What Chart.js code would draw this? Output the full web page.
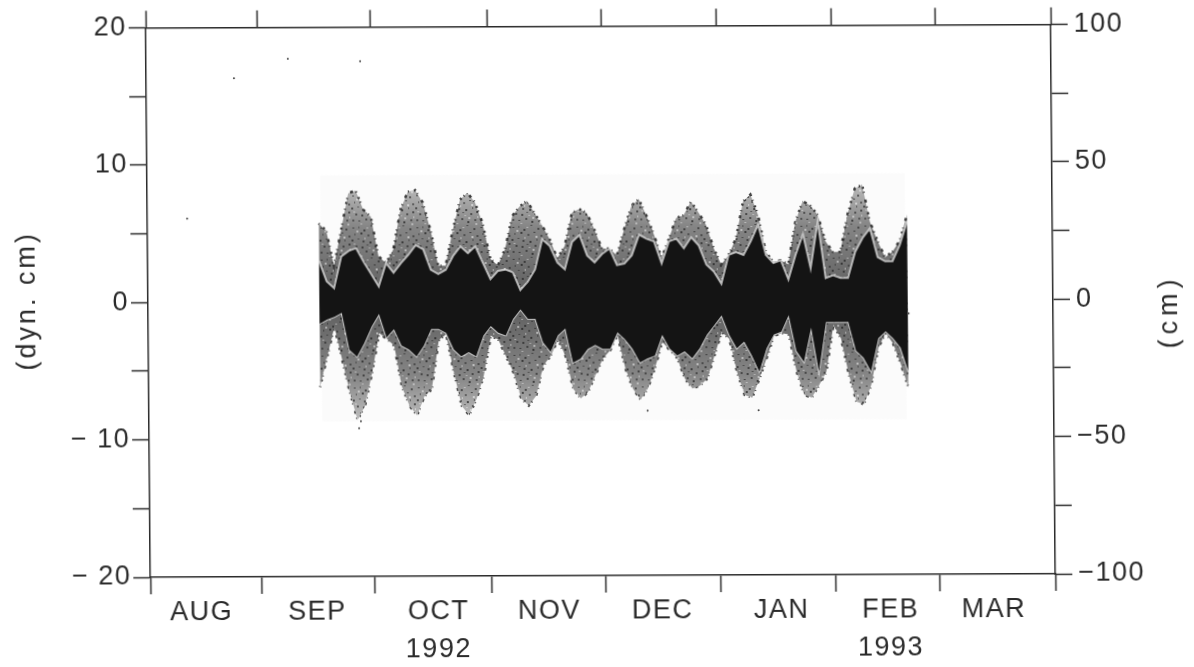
<!DOCTYPE html>
<html>
<head>
<meta charset="utf-8">
<style>
  html, body { margin: 0; padding: 0; background: #fff; overflow: hidden; }
  /* the scanned figure sits slightly crooked on the page */
  #sea { display: block; transform-origin: 600px 300px; transform: matrix(1, -0.0038, 0.0085, 1, 0, 0.6); filter: blur(.35px); }
</style>
<script src="https://cdn.jsdelivr.net/npm/chart.js@4/dist/chart.umd.min.js"></script>
</head>
<body>
<canvas id="sea" width="1194" height="667"></canvas>
<script>
var monthStarts = [0, 30, 60.3, 91.6, 122.4, 153.3, 184.1, 212, 243];
var monthDays = [13.7, 44.8, 77.3, 107.1, 137.5, 169.4, 198.7, 226.4];
var monthNames = ['AUG', 'SEP', ['OCT', '1992'], 'NOV', 'DEC', 'JAN', ['FEB', '1993'], 'MAR'];
var leftLabels = { '20': '20', '10': '10', '0': '0', '-10': '\u2212 10', '-20': '\u2212 20' };
var rightLabels = { '100': '100', '50': '50', '0': '0', '-50': '\u221250', '-100': '\u2212100' };

var days = [46, 48, 50, 52, 54, 56, 58, 60, 62, 64, 66, 68, 70, 72, 74, 76, 78, 80, 82, 84,
  86, 88, 90, 92, 94, 96, 98, 100, 102, 104, 106, 108, 110, 112, 114, 116, 118, 120, 122, 124,
  126, 128, 130, 132, 134, 136, 138, 140, 142, 144, 146, 148, 150, 152, 154, 156, 158, 160, 162, 164,
  166, 168, 170, 172, 174, 176, 178, 180, 182, 184, 186, 188, 190, 192, 194, 196, 198, 200, 202, 204];
var outerTop = [5.7, 5.2, 2.6, 5.2, 7.9, 8.1, 6.7, 6.2, 3.3, 2.8, 3.8, 6.7, 8.0, 8.1, 7.2, 5.2, 2.6, 2.6, 5.2, 7.4,
  7.9, 7.2, 5.7, 3.1, 2.6, 3.8, 6.2, 6.9, 7.3, 6.4, 5.5, 4.5, 3.1, 4.0, 6.4, 6.7, 6.4, 5.2, 3.8, 3.8,
  3.3, 5.2, 6.9, 7.4, 6.2, 4.8, 3.1, 4.5, 6.0, 6.2, 7.2, 6.4, 5.5, 3.8, 2.6, 3.3, 4.5, 7.2, 7.7, 6.2,
  3.5, 2.8, 2.9, 2.6, 5.7, 7.2, 6.9, 6.2, 4.3, 3.5, 3.5, 6.2, 8.1, 8.4, 5.7, 4.3, 3.1, 3.5, 4.3, 6.2];
var innerTop = [3.0, 1.5, 1.0, 3.3, 3.7, 3.9, 2.9, 2.0, 1.1, 2.8, 2.1, 2.8, 3.4, 4.1, 3.8, 2.3, 2.0, 2.3, 3.3, 4.0,
  3.5, 4.0, 2.8, 1.6, 2.2, 2.3, 2.1, 0.8, 1.4, 2.3, 4.5, 4.0, 2.8, 2.3, 4.3, 4.8, 3.3, 2.8, 3.4, 3.8,
  2.6, 2.7, 3.3, 4.8, 4.5, 4.3, 2.7, 4.3, 4.5, 3.8, 4.6, 4.0, 2.6, 2.1, 1.2, 3.3, 3.5, 3.3, 4.3, 5.5,
  3.3, 2.7, 2.9, 1.5, 3.3, 4.8, 2.3, 5.7, 1.6, 1.8, 1.6, 1.6, 3.5, 4.5, 5.2, 3.1, 2.8, 2.8, 4.0, 5.7];
var innerBottom = [-1.6, -1.3, -1.1, -0.8, -3.5, -4.0, -3.0, -1.8, -0.9, -2.6, -2.0, -3.2, -3.5, -4.0, -3.2, -2.0, -2.0, -2.3, -3.5, -4.0,
  -3.7, -4.0, -2.5, -1.8, -2.3, -2.5, -1.3, -0.6, -1.3, -1.3, -3.0, -3.7, -2.5, -2.0, -4.5, -4.2, -3.5, -3.2, -3.5, -3.5,
  -2.3, -2.8, -3.5, -4.5, -4.2, -4.0, -2.5, -3.5, -4.0, -3.7, -4.2, -3.5, -2.5, -1.8, -1.1, -2.5, -3.5, -3.0, -4.0, -5.2,
  -3.5, -2.5, -2.3, -1.1, -3.7, -4.5, -2.0, -5.2, -1.6, -1.6, -1.6, -1.6, -3.7, -4.2, -5.2, -2.8, -2.3, -2.8, -3.5, -5.2];
var outerBottom = [-6.2, -4.0, -1.8, -4.2, -6.6, -8.6, -7.6, -5.2, -2.3, -2.7, -3.2, -6.2, -7.6, -8.3, -6.9, -6.4, -2.8, -2.4, -5.2, -7.6,
  -8.3, -7.1, -5.4, -2.5, -2.8, -4.0, -5.2, -7.1, -7.6, -6.9, -4.7, -4.0, -2.8, -4.0, -6.4, -7.1, -6.6, -5.4, -4.2, -3.6,
  -2.5, -4.9, -6.4, -7.2, -6.4, -4.9, -3.0, -3.6, -4.2, -5.7, -6.4, -6.2, -5.7, -4.0, -2.3, -2.8, -5.2, -6.9, -7.1, -5.7,
  -4.2, -2.6, -2.4, -2.5, -5.2, -6.9, -7.1, -6.2, -5.2, -1.8, -2.8, -5.4, -7.4, -7.6, -6.2, -3.5, -2.4, -3.2, -4.7, -6.4];

// faint halftone rectangle behind the record
var boxDays = [46.5, 203.5];
var boxTop = [9.2, 9.2];
var boxBottom = [-8.7, -8.7];
// stray specks on the scan
var speckDays = [23.6, 38.1, 57.5, 10.7, 56.4, 56.9, 133.9, 204.2, 163.7];
var speckValues = [16.3, 17.7, 17.5, 6.1, -9.2, -8.7, -8.0, -1.0, -8.0];

// hand placed blotches for the grey texture, x, y, w, h, alpha
var inkDots = [[1, 2, 2, 1, .6], [7, 1, 1, 2, .45], [12, 4, 2, 2, .6], [19, 0, 2, 1, .5], [26, 3, 2, 2, .55],
  [3, 8, 1, 2, .5], [9, 7, 2, 2, .65], [16, 9, 2, 2, .45], [22, 7, 2, 1, .6], [29, 10, 2, 2, .5],
  [0, 14, 2, 2, .6], [6, 13, 2, 1, .45], [11, 15, 2, 2, .55], [18, 16, 2, 2, .65], [25, 14, 1, 2, .5],
  [4, 20, 2, 2, .55], [10, 21, 2, 2, .6], [15, 19, 2, 1, .45], [23, 20, 2, 2, .55], [29, 18, 2, 2, .6],
  [1, 26, 2, 2, .5], [7, 27, 2, 1, .6], [14, 25, 2, 2, .55], [20, 28, 2, 2, .65], [27, 26, 2, 2, .5]];
var paperDots = [[5, 5, 2, 2, .45], [15, 2, 2, 1, .4], [24, 11, 2, 2, .5], [13, 12, 1, 2, .45], [2, 18, 2, 1, .4],
  [21, 24, 2, 2, .45], [9, 30, 2, 1, .4], [30, 23, 1, 2, .45], [17, 22, 2, 1, .35], [28, 30, 2, 2, .4]];

function speckleTile() {
  var tile = document.createElement('canvas');
  tile.width = 32;
  tile.height = 32;
  var c = tile.getContext('2d');
  inkDots.forEach(function (d) {
    c.fillStyle = 'rgba(25,25,25,' + d[4] + ')';
    c.fillRect(d[0], d[1], d[2], d[3]);
  });
  paperDots.forEach(function (d) {
    c.fillStyle = 'rgba(255,255,255,' + d[4] + ')';
    c.fillRect(d[0], d[1], d[2], d[3]);
  });
  return c.createPattern(tile, 'repeat');
}

function pairs(xs, ys) {
  return xs.map(function (x, i) { return { x: x, y: ys[i] }; });
}

// two lines and the fill between them
function band(xs, top, bottom, fillStyle, edge, order) {
  var line = { pointRadius: 0, tension: 0, order: order, borderWidth: edge.width, borderColor: edge.color, borderDash: edge.dash || [] };
  return [
    Object.assign({ data: pairs(xs, top), fill: '+1', backgroundColor: fillStyle }, line),
    Object.assign({ data: pairs(xs, bottom), fill: false }, line)
  ];
}

function greyFade(context) {
  var chart = context.chart;
  if (!chart.chartArea) return '#888';
  var y = chart.scales.y;
  var g = chart.ctx.createLinearGradient(0, y.getPixelForValue(9), 0, y.getPixelForValue(-9));
  g.addColorStop(0, '#c4c4c4');
  g.addColorStop(0.2, '#858585');
  g.addColorStop(0.5, '#5c5c5c');
  g.addColorStop(0.8, '#858585');
  g.addColorStop(1, '#c4c4c4');
  return g;
}

var ink = '#2b2b2b';
var noEdge = { width: 0, color: 'transparent' };
var textFont = { family: 'Liberation Sans', size: 27, lineHeight: 1.4 };

var axisTitles = {
  id: 'axisTitles',
  beforeDraw: function (chart) { chart.ctx.letterSpacing = '1.5px'; },
  afterDraw: function (chart) {
    var ctx = chart.ctx;
    [['(dyn. cm)', 28, 298, '3px'], ['(cm)', 1170, 313, '5px']].forEach(function (t) {
      ctx.save();
      ctx.translate(t[1], t[2]);
      ctx.rotate(-Math.PI / 2);
      ctx.font = '27px "Liberation Sans"';
      ctx.letterSpacing = t[3];
      ctx.fillStyle = ink;
      ctx.textAlign = 'center';
      ctx.textBaseline = 'middle';
      ctx.fillText(t[0], 0, 0);
      ctx.restore();
    });
  }
};

function fixedSize(prop, size) {
  return function (scale) { scale[prop] = size; };
}

var monthTicks = monthStarts.concat(monthDays).sort(function (a, b) { return a - b; });

var chart = new Chart(document.getElementById('sea'), {
  type: 'line',
  data: {
    datasets: [].concat(
      band(boxDays, boxTop, boxBottom, '#fbfbfb', noEdge, 8),
      band(days, outerTop, outerBottom, greyFade, { width: 2.5, color: '#3a3a3a', dash: [1, 5, 2, 3, 1, 7, 3, 4] }, 6),
      band(days, outerTop, outerBottom, speckleTile(), noEdge, 5),
      band(days, innerTop, innerBottom, '#141414', { width: 2, color: 'rgba(235,235,235,.7)' }, 3),
      [{ data: pairs(speckDays, speckValues), showLine: false, pointRadius: 1, pointBackgroundColor: '#444', pointBorderWidth: 0, order: 1 }]
    )
  },
  options: {
    responsive: false,
    animation: false,
    layout: { padding: 0 },
    plugins: { legend: { display: false }, tooltip: { enabled: false } },
    scales: {
      x: {
        type: 'linear',
        position: 'bottom',
        min: 0,
        max: 243,
        afterBuildTicks: function (scale) {
          scale.ticks = monthTicks.map(function (v) { return { value: v }; });
        },
        afterFit: fixedSize('height', 92),
        border: { color: ink, width: 1.5 },
        grid: {
          drawOnChartArea: false,
          tickLength: 17,
          tickWidth: 1.5,
          tickColor: function (c) { return monthStarts.indexOf(c.tick.value) >= 0 ? ink : 'transparent'; }
        },
        ticks: {
          autoSkip: false,
          maxRotation: 0,
          padding: 0,
          color: ink,
          font: textFont,
          callback: function (v) {
            var i = monthDays.indexOf(v);
            return i >= 0 ? monthNames[i] : '';
          }
        }
      },
      xTop: {
        type: 'linear',
        position: 'top',
        min: 0,
        max: 243,
        afterBuildTicks: function (scale) {
          scale.ticks = monthStarts.map(function (v) { return { value: v }; });
        },
        afterFit: fixedSize('height', 25.5),
        border: { color: ink, width: 1.5 },
        grid: { drawOnChartArea: false, tickLength: 17, tickWidth: 1.5, tickColor: ink },
        ticks: { display: false }
      },
      y: {
        position: 'left',
        min: -20,
        max: 20,
        afterFit: fixedSize('width', 148),
        border: { color: ink, width: 1.5 },
        grid: { drawOnChartArea: false, tickLength: 17, tickWidth: 1.5, tickColor: ink },
        ticks: {
          stepSize: 5,
          autoSkip: false,
          padding: 2,
          color: ink,
          font: textFont,
          callback: function (v) { return leftLabels[v] || ''; }
        }
      },
      yRight: {
        position: 'right',
        min: -100,
        max: 100,
        afterFit: fixedSize('width', 141),
        border: { color: ink, width: 1.5 },
        grid: { drawOnChartArea: false, tickLength: 17, tickWidth: 1.5, tickColor: ink },
        ticks: {
          stepSize: 25,
          autoSkip: false,
          padding: 6,
          color: ink,
          font: textFont,
          callback: function (v) { return rightLabels[v] || ''; }
        }
      }
    }
  },
  plugins: [axisTitles]
});
</script>
</body>
</html>
